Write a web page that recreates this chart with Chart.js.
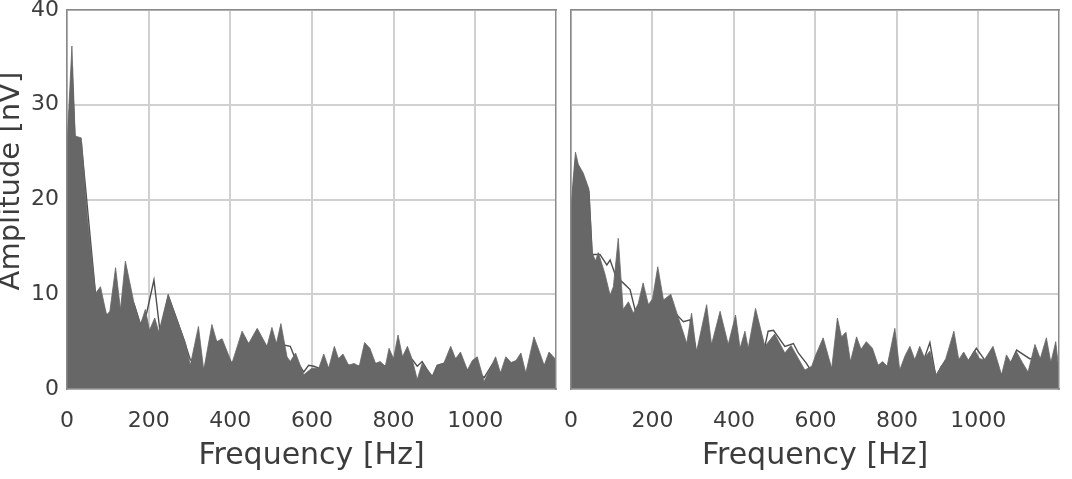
<!DOCTYPE html>
<html>
<head>
<meta charset="utf-8">
<script src="https://cdn.jsdelivr.net/npm/chart.js@4/dist/chart.umd.min.js"></script>
<style>
  body { margin: 0; background: #fff; }
  #wrap { position: relative; width: 1072px; height: 479px; }
  canvas { position: absolute; top: 0; }
</style>
</head>
<body>
<div id="wrap">
  <canvas id="chartLeft" width="562" height="479" style="left:0;width:562px;height:479px"></canvas>
  <canvas id="chartRight" width="510" height="479" style="left:562px;width:510px;height:479px"></canvas>
</div>
<script>
// ============================================================
// data (Hz / nV)
// ============================================================
const X_TICKS = [0, 200, 400, 600, 800, 1000];
const Y_TICKS = [0, 10, 20, 30, 40];

// left panel - filled spectrum
const freqA = [0, 5, 12, 20, 35, 50, 70, 82, 97, 105, 119, 131, 143, 164, 180, 192, 202, 215, 225, 248, 270, 290, 302, 322, 335, 355, 367, 380, 404, 429, 445, 466, 490, 502, 513, 524, 539, 547, 560, 580, 600, 617, 629, 641, 655, 665, 676, 690, 703, 716, 729, 742, 756, 767, 780, 789, 800, 811, 822, 834, 846, 858, 870, 883, 895, 907, 923, 940, 952, 964, 981, 993, 1005, 1022, 1035, 1050, 1062, 1075, 1088, 1100, 1112, 1124, 1144, 1156, 1169, 1181, 1198];
const ampA  = [26, 30, 36.2, 26.7, 26.5, 18, 10.1, 10.8, 7.8, 8.2, 12.8, 8.4, 13.5, 9.1, 6.8, 8.4, 6.2, 7.5, 6.0, 10.0, 7.3, 4.9, 2.5, 6.6, 2.0, 6.8, 5.0, 5.3, 2.7, 6.1, 4.8, 6.4, 4.5, 6.5, 4.8, 6.9, 3.4, 2.9, 3.8, 1.5, 2.2, 2.2, 3.7, 2.2, 4.5, 3.2, 3.7, 2.5, 2.7, 2.4, 4.9, 4.3, 2.7, 2.9, 2.4, 4.3, 3.2, 5.7, 3.4, 4.5, 3.1, 1.0, 2.7, 2.0, 1.3, 2.5, 2.7, 4.5, 3.2, 3.9, 2.0, 3.0, 3.4, 0.8, 2.0, 3.4, 1.7, 3.4, 2.8, 3.0, 3.8, 1.7, 5.5, 4.1, 2.5, 3.9, 3.1];

// left panel - thin line (mostly hidden behind the fill)
const lineFreqA = [0, 12, 20, 35, 70, 97, 131, 164, 180, 195, 213, 228, 248, 270, 290, 302, 335, 367, 404, 445, 490, 513, 547, 560, 580, 592, 605, 617, 641, 665, 690, 716, 756, 780, 800, 822, 846, 858, 870, 883, 895, 907, 923, 952, 981, 1005, 1022, 1042, 1062, 1124, 1169, 1198];
const lineAmpA  = [24, 34, 26, 26, 10, 7.8, 8.4, 9.0, 6.8, 8, 11.5, 6.0, 9.8, 7.2, 4.7, 3.1, 2.0, 5.0, 2.7, 4.8, 4.5, 4.8, 4.5, 3.1, 1.8, 2.5, 2.4, 2.2, 2.2, 3.2, 2.5, 2.4, 2.7, 2.4, 3.2, 3.4, 3.1, 2.4, 2.9, 2.0, 1.3, 2.5, 2.7, 3.2, 2.0, 1.8, 1.2, 2.6, 1.7, 1.7, 2.5, 3.0];

// right panel - filled spectrum
const freqB = [0, 5, 11, 18, 30, 44, 52, 60, 67, 83, 96, 104, 116, 128, 141, 153, 165, 177, 190, 200, 213, 227, 245, 260, 276, 284, 296, 308, 333, 345, 366, 386, 404, 415, 427, 435, 453, 476, 500, 525, 540, 574, 591, 600, 619, 640, 654, 664, 675, 686, 701, 712, 725, 740, 754, 765, 776, 795, 807, 820, 832, 844, 856, 868, 881, 896, 908, 920, 940, 952, 964, 976, 991, 1003, 1015, 1036, 1057, 1069, 1080, 1094, 1108, 1122, 1139, 1152, 1167, 1178, 1190, 1198];
const ampB  = [19, 22, 25, 23.7, 22.8, 21.1, 14.4, 13.5, 14.4, 12.2, 9.9, 10.8, 15.9, 8.4, 9.2, 8.0, 9.0, 11.2, 8.9, 9.5, 12.9, 9.4, 10.0, 8.0, 5.9, 4.8, 8.0, 3.9, 8.9, 4.7, 8.2, 4.7, 7.8, 4.3, 6.1, 4.3, 8.5, 4.5, 5.8, 3.8, 4.6, 2.0, 2.4, 3.5, 5.4, 2.2, 7.5, 5.5, 6.0, 2.9, 5.5, 4.2, 5.0, 4.3, 2.5, 2.9, 2.4, 6.4, 2.0, 3.5, 4.5, 3.1, 4.5, 3.3, 4.0, 1.5, 2.3, 3.2, 6.1, 3.1, 3.9, 3.0, 4.1, 3.2, 3.1, 4.5, 1.5, 3.6, 2.8, 3.9, 2.8, 1.8, 4.7, 3.2, 5.4, 2.8, 5.0, 1.8];

// right panel - thin line
const lineFreqB = [0, 11, 18, 30, 44, 52, 71, 88, 96, 110, 128, 145, 157, 190, 227, 260, 276, 292, 308, 345, 386, 415, 435, 476, 484, 497, 525, 546, 558, 578, 591, 605, 640, 686, 754, 776, 807, 844, 868, 881, 896, 908, 920, 952, 976, 995, 1015, 1057, 1080, 1094, 1126, 1152, 1178, 1198];
const lineAmpB  = [18, 24, 23.5, 22.5, 20.8, 14.2, 14.2, 13.1, 13.6, 11.9, 11.2, 10.5, 8.4, 8.9, 9.2, 7.8, 7.1, 7.3, 3.9, 4.7, 4.7, 4.3, 4.3, 4.5, 6.1, 6.2, 4.5, 4.8, 3.8, 2.7, 1.8, 2.6, 2.2, 2.9, 2.5, 2.4, 2.0, 3.1, 3.3, 4.9, 1.2, 2.3, 3.0, 3.1, 3.0, 4.3, 3.1, 1.5, 2.8, 4.1, 3.2, 3.2, 2.8, 1.8];

// ============================================================
// style
// ============================================================
const FONT = 'DejaVu Sans';
const TEXT_COLOR = '#3c3c3c';
const GRID_COLOR = '#d0d0d0';
const FRAME_COLOR = '#8a8a8a';
const FILL_COLOR = '#676767';
const X_MAX = 1198;

function toPoints(xs, ys) {
    return xs.map((x, i) => ({ x: x, y: ys[i] }));
}

function frameAxis(pos) {
    // top / right frame lines only
    const isX = pos === 'top';
    return {
        type: 'linear',
        position: pos,
        min: 0,
        max: isX ? X_MAX : 40,
        ticks: { display: false },
        grid: { display: false },
        border: { display: true, color: FRAME_COLOR, width: 1.5, z: 2 },
        afterFit: s => {
            if (isX) s.height = 0; else s.width = 0;
            s.paddingLeft = s.paddingRight = s.paddingTop = s.paddingBottom = 0;
        }
    };
}

function makePanel(id, fx, fy, lx, ly, isLeft) {
    const ctx = document.getElementById(id).getContext('2d');
    return new Chart(ctx, {
        type: 'line',
        data: {
            datasets: [
                {   // filled spectrum (drawn on top)
                    data: toPoints(fx, fy),
                    borderColor: FILL_COLOR,
                    backgroundColor: FILL_COLOR,
                    borderWidth: 0.8,
                    pointRadius: 0,
                    fill: 'origin',
                    tension: 0,
                    order: 0
                },
                {   // thin line behind the fill
                    data: toPoints(lx, ly),
                    borderColor: '#4e4e4e',
                    borderWidth: 1.4,
                    pointRadius: 0,
                    fill: false,
                    tension: 0,
                    order: 1
                }
            ]
        },
        options: {
            responsive: false,
            animation: false,
            devicePixelRatio: 1,
            layout: {
                padding: isLeft ? { top: 10, right: 6, bottom: 0, left: 0 }
                                : { top: 10, right: 13, bottom: 0, left: 0 }
            },
            plugins: {
                legend: { display: false },
                tooltip: { enabled: false }
            },
            scales: {
                x: {
                    type: 'linear',
                    position: 'bottom',
                    min: 0,
                    max: X_MAX,
                    afterBuildTicks: s => { s.ticks = X_TICKS.map(v => ({ value: v })); },
                    afterFit: s => { s.height = 90; s.paddingLeft = 0; s.paddingRight = 0; },
                    grid: { color: GRID_COLOR, lineWidth: 2, drawTicks: false },
                    border: { color: FRAME_COLOR, width: 1.5, z: 2 },
                    ticks: {
                        padding: 19,
                        color: TEXT_COLOR,
                        font: { family: FONT, size: 22 },
                        maxRotation: 0,
                        autoSkip: false,
                        callback: v => String(v)
                    },
                    title: {
                        display: true,
                        text: 'Frequency [Hz]',
                        color: TEXT_COLOR,
                        font: { family: FONT, size: 30 },
                        padding: { top: 0, bottom: 5 }
                    }
                },
                y: {
                    type: 'linear',
                    position: 'left',
                    min: 0,
                    max: 40,
                    afterBuildTicks: s => { s.ticks = Y_TICKS.map(v => ({ value: v })); },
                    afterFit: s => { s.width = isLeft ? 67 : 9; s.paddingTop = 0; s.paddingBottom = 0; },
                    grid: { color: GRID_COLOR, lineWidth: 2, drawTicks: false },
                    border: { color: FRAME_COLOR, width: 1.5, z: 2 },
                    ticks: {
                        display: isLeft,
                        padding: 8,
                        color: TEXT_COLOR,
                        font: { family: FONT, size: 22 },
                        callback: v => String(v)
                    },
                    title: {
                        display: isLeft,
                        // leading spaces push the label up a little, like the original
                        text: '    Amplitude [nV]',
                        color: TEXT_COLOR,
                        font: { family: FONT, size: 29 },
                        padding: { top: -6, bottom: 0 }
                    }
                },
                xTop: frameAxis('top'),
                yRight: frameAxis('right')
            }
        }
    });
}

makePanel('chartLeft', freqA, ampA, lineFreqA, lineAmpA, true);
makePanel('chartRight', freqB, ampB, lineFreqB, lineAmpB, false);
</script>
</body>
</html>
